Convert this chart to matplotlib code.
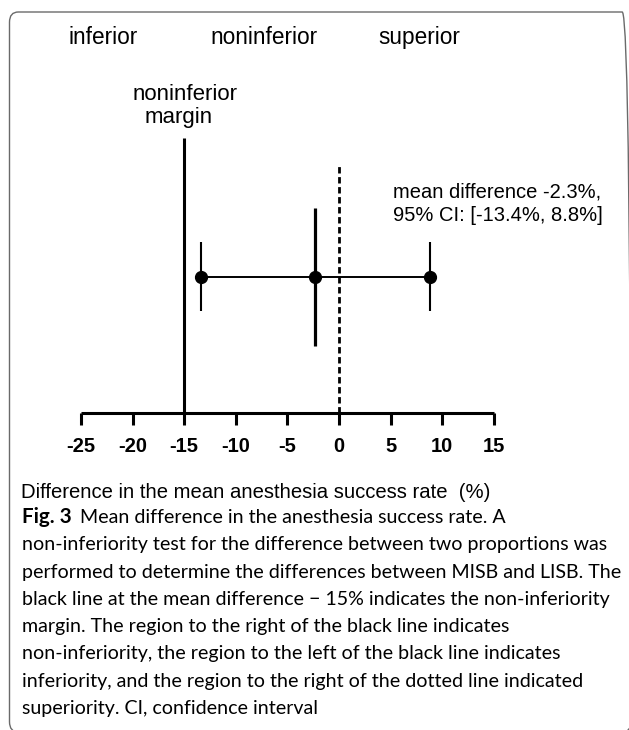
import matplotlib
matplotlib.use("Agg")
import matplotlib.pyplot as plt
from matplotlib.patches import FancyBboxPatch

# ---------------- data ----------------
tick_values = [-25, -20, -15, -10, -5, 0, 5, 10, 15]
tick_labels = ["-25", "-20", "-15", "-10", "-5", "0", "5", "10", "15"]
noninferior_margin = -15.0
superiority_line = 0.0
mean_difference = -2.3
ci_low = -13.4
ci_high = 8.8
region_labels = ["inferior", "noninferior", "superior"]
margin_label = ["noninferior", "margin"]
annotation_lines = ["mean difference -2.3%,", "95% CI: [-13.4%, 8.8%]"]
xlabel = "Difference in the mean anesthesia success rate  (%)"
caption_bold = "Fig. 3"
caption_first = "Mean difference in the anesthesia success rate. A"
caption_lines = [
    "non-inferiority test for the difference between two proportions was",
    "performed to determine the differences between MISB and LISB. The",
    "black line at the mean difference \u2212 15% indicates the non-inferiority",
    "margin. The region to the right of the black line indicates",
    "non-inferiority, the region to the left of the black line indicates",
    "inferiority, and the region to the right of the dotted line indicated",
    "superiority. CI, confidence interval",
]

# ---------------- layout helpers ----------------
W, H = 629, 730
fig = plt.figure(figsize=(W / 100, H / 100), dpi=100)
fig.patch.set_facecolor("white")


def fx(px):
    return px / W


def fy(py):
    return 1 - py / H


ARIAL = "Liberation Sans"
CAPF = "Lato"

# frame (right and bottom edges run off the picture)
frame = FancyBboxPatch((fx(9.5), fy(732)), fx(631) - fx(9.5), fy(12) - fy(732),
                       boxstyle="round,pad=0,rounding_size=0.014",
                       transform=fig.transFigure, fill=False,
                       edgecolor="#6a6a6a", linewidth=1.0, zorder=0)
fig.add_artist(frame)

# main axes
ax_left, ax_right, ax_bottom, ax_top = 81, 494, 413, 138
ax = fig.add_axes([fx(ax_left), fy(ax_bottom), fx(ax_right) - fx(ax_left), fy(ax_top) - fy(ax_bottom)])
ax.set_xlim(tick_values[0], tick_values[-1])
ax.set_ylim(0, 1)
ax.patch.set_alpha(0)
for s in ["left", "top", "right"]:
    ax.spines[s].set_visible(False)
ax.spines["bottom"].set_linewidth(2.2)
ax.spines["bottom"].set_capstyle("butt")
ax.set_yticks([])
ax.set_xticks(tick_values)
ax.set_xticklabels(tick_labels, fontfamily=ARIAL, fontweight="bold", fontsize=14.5)
ax.tick_params(axis="x", direction="out", length=8.6, width=2.2, pad=8.5)

# vertical reference lines
ax.axvline(noninferior_margin, ymin=0, ymax=1, color="black", lw=2.2, solid_capstyle="butt")
ax.axvline(superiority_line, ymin=0, ymax=0.909, color="black", lw=2.0,
           dashes=(2.3, 1.3), dash_capstyle="butt")

# CI bar
ybar = 0.4945
ax.plot([ci_low, ci_high], [ybar, ybar], color="black", lw=1.4, zorder=3)
ax.vlines([ci_low, ci_high], 0.371, 0.622, color="black", lw=1.5, zorder=3)
ax.vlines([mean_difference], 0.2436, 0.745, color="black", lw=2.3, zorder=3)
ax.plot([ci_low, mean_difference, ci_high], [ybar] * 3, "o", color="black",
        markersize=8.5, zorder=4)

# region labels at top
region_x = [68, 210, 378]
for lab, x in zip(region_labels, region_x):
    fig.text(fx(x), fy(44), lab, fontfamily=ARIAL, fontsize=16.3, ha="left", va="baseline")

fig.text(fx(185.5), fy(100), margin_label[0], fontfamily=ARIAL, fontsize=16, ha="center", va="baseline")
fig.text(fx(178.5), fy(123), margin_label[1], fontfamily=ARIAL, fontsize=16, ha="center", va="baseline")

# annotation
fig.text(fx(393), fy(197), annotation_lines[0], fontfamily=ARIAL, fontsize=14.5, ha="left", va="baseline")
fig.text(fx(393), fy(221), annotation_lines[1], fontfamily=ARIAL, fontsize=14.5, ha="left", va="baseline")

# x label
fig.text(fx(21), fy(498), xlabel, fontfamily=ARIAL, fontsize=14.6, ha="left", va="baseline")

# caption
renderer = fig.canvas.get_renderer()
probe = fig.text(0, 0, caption_lines[0], fontfamily=CAPF, fontsize=12)
wpx = probe.get_window_extent(renderer).width
probe.remove()
cap_fs = 12 * (605 - 22) / wpx

cap_x = 22
base0 = 523
step = 27.3
t_bold = fig.text(fx(cap_x), fy(base0), caption_bold, fontfamily=CAPF, fontweight="bold",
                  fontsize=cap_fs * 1.05, ha="left", va="baseline")
bw = t_bold.get_window_extent(renderer).width
fig.text(fx(cap_x + bw + 8), fy(base0), caption_first, fontfamily=CAPF, fontsize=cap_fs,
         ha="left", va="baseline")
for i, line in enumerate(caption_lines):
    fig.text(fx(cap_x), fy(base0 + step * (i + 1)), line, fontfamily=CAPF, fontsize=cap_fs,
             ha="left", va="baseline")

fig.savefig("out.png", dpi=100, facecolor="white")
